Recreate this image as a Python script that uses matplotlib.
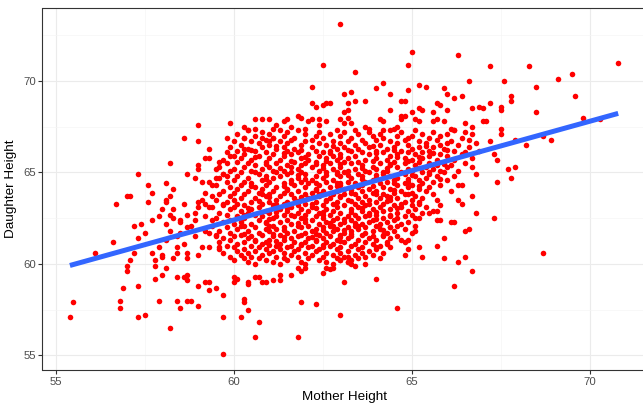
import numpy as np
import matplotlib.pyplot as plt
from matplotlib.ticker import MultipleLocator

# points away from the dense middle, read one by one: (mother, daughter) in inches
outer_pts = [
    (63.0, 73.1), (62.5, 70.9), (62.2, 69.7), (62.2, 68.8), (62.3, 68.6), (62.5, 68.7), (62.6, 68.8), (62.7, 68.8),
    (59.0, 67.6), (59.9, 67.7), (60.3, 67.5), (60.6, 67.9), (60.8, 67.9), (61.0, 67.9), (60.6, 67.4), (61.2, 67.6),
    (61.4, 67.8), (61.5, 67.9), (61.6, 67.5), (61.8, 68.1), (61.9, 68.0), (62.1, 67.8), (62.2, 67.9), (62.4, 67.9),
    (62.6, 67.8), (62.4, 67.6), (62.0, 67.4), (63.0, 67.9), (61.1, 67.4), (60.4, 67.3),
    (65.0, 71.6), (64.9, 70.9), (63.4, 70.5), (66.3, 71.4), (67.2, 70.8), (66.6, 70.0), (65.2, 69.8), (65.4, 69.7),
    (65.9, 69.6), (66.0, 69.3), (66.2, 69.1), (66.4, 69.2), (64.0, 69.6), (64.2, 69.9), (64.4, 69.3), (64.9, 69.5),
    (63.1, 69.3), (63.3, 69.4), (63.2, 68.8), (63.4, 68.9), (63.7, 68.9), (64.7, 68.9), (64.8, 68.9), (65.7, 68.8),
    (65.8, 68.7), (66.7, 68.5), (66.9, 68.6), (67.0, 68.5), (67.2, 68.8), (64.4, 68.4), (65.0, 68.3), (65.2, 68.5),
    (65.3, 68.4), (65.6, 68.3), (66.0, 68.4), (63.1, 68.3), (63.2, 68.4), (64.7, 68.1), (64.8, 68.1), (64.7, 67.9),
    (65.1, 67.9), (65.2, 67.8), (65.6, 67.8), (65.7, 67.9), (65.9, 67.8), (64.1, 67.9), (64.2, 67.8), (63.1, 67.7),
    (63.3, 67.7), (63.2, 68.0), (66.5, 67.7), (66.7, 67.5), (67.0, 67.8), (67.1, 67.8), (63.7, 67.5), (63.8, 67.4),
    (64.2, 67.3), (64.5, 67.4), (64.6, 67.5), (66.1, 67.4), (66.2, 67.3),
    (70.8, 71.0), (68.3, 70.8), (67.6, 70.0), (68.5, 69.7), (69.1, 70.1), (69.5, 70.4), (69.6, 69.2), (67.8, 69.2),
    (67.8, 68.9), (67.5, 68.6), (67.5, 68.4), (68.5, 68.3), (69.8, 68.0), (70.3, 67.9), (67.5, 67.4),
    (67.5, 67.1), (67.2, 66.7), (67.9, 66.8), (68.2, 66.5), (68.7, 67.0), (68.9, 66.8), (67.3, 66.0), (67.4, 65.7),
    (67.7, 65.2), (67.9, 65.3), (67.4, 64.5), (67.8, 64.7), (67.3, 62.5), (68.7, 60.6),
    (58.6, 66.9), (58.2, 65.5), (57.3, 64.9), (58.7, 64.9), (57.6, 64.3), (58.1, 64.4), (57.7, 63.9), (58.3, 64.1),
    (57.0, 63.7), (57.1, 63.7), (56.7, 63.3), (57.6, 63.4), (58.1, 63.5), (58.2, 63.7), (58.1, 63.4), (58.6, 63.3),
    (58.0, 63.0), (58.3, 63.0), (57.7, 62.4), (57.9, 62.6), (58.1, 62.2), (58.2, 62.7), (58.3, 62.5), (58.5, 62.4),
    (58.5, 62.3), (58.7, 62.7), (57.2, 62.1), (57.4, 62.2), (57.3, 61.4), (57.5, 61.7), (58.2, 61.8), (58.1, 61.3),
    (58.4, 61.5), (58.5, 61.7), (58.7, 62.0), (57.9, 60.9), (58.4, 60.9), (58.6, 61.1), (58.7, 60.6), (58.4, 60.6),
    (58.0, 60.5), (57.7, 60.6), (57.2, 60.6), (56.6, 61.2), (56.1, 60.6),
    (57.1, 60.2), (57.0, 59.9), (57.0, 59.6), (56.9, 58.7), (57.3, 58.8), (56.8, 58.0), (56.8, 57.6), (55.5, 57.9),
    (55.4, 57.1), (57.3, 57.1), (57.5, 57.2), (57.9, 58.0), (58.2, 56.5), (58.4, 58.0), (58.5, 57.6), (57.8, 60.2),
    (57.8, 59.9), (58.1, 59.8), (58.0, 60.4), (58.3, 60.3), (57.8, 59.2), (58.0, 59.4), (58.4, 59.3), (58.6, 59.3),
    (58.7, 59.4), (58.7, 59.1), (58.7, 58.0), (58.7, 60.3),
    (59.7, 55.1), (60.6, 56.0), (61.8, 56.0), (59.7, 57.1), (60.2, 57.1), (60.7, 56.8), (60.4, 57.5), (60.3, 58.1),
    (60.3, 57.9), (59.7, 58.3), (59.0, 57.7), (58.8, 58.0), (61.9, 57.9), (62.3, 57.8), (63.0, 57.2), (59.5, 58.7),
    (59.3, 58.6), (59.3, 59.0), (59.2, 59.0), (59.0, 58.8), (60.0, 59.0), (60.1, 59.2), (60.0, 59.3), (60.4, 59.0),
    (60.4, 58.9), (60.6, 59.3), (60.7, 59.3), (60.8, 59.0), (60.9, 59.0), (61.1, 59.1), (61.3, 59.1), (61.3, 59.4),
    (61.6, 59.4), (61.9, 59.6), (62.0, 59.8), (61.8, 59.8), (62.5, 59.5), (62.6, 59.8), (62.7, 59.7), (62.8, 59.8),
    (64.6, 57.6), (63.1, 59.0), (64.0, 59.2), (66.2, 58.8), (66.7, 59.6), (66.3, 60.1), (66.5, 60.4), (65.9, 60.3),
    (65.3, 60.4), (64.8, 60.5), (64.1, 60.3), (63.7, 60.0), (63.4, 59.9), (63.3, 60.0), (63.2, 60.1), (63.2, 60.4),
    (63.0, 60.2),
    (66.8, 62.8), (66.7, 63.7), (66.6, 61.9), (66.5, 61.8), (66.3, 63.5), (66.4, 63.3), (66.3, 64.3), (66.4, 64.3),
    (66.2, 62.3), (66.1, 62.3), (65.8, 62.4), (65.7, 62.4), (65.6, 62.9), (65.7, 62.9), (65.8, 63.2), (65.7, 61.0),
    (65.9, 61.4), (66.8, 64.9), (66.7, 65.3), (66.9, 66.2),
    (64.2, 61.5), (64.4, 62.0), (64.7, 61.3), (64.9, 61.3), (65.1, 61.8), (65.1, 62.5), (65.2, 63.4), (65.5, 62.8),
    (64.4, 62.6), (64.9, 60.8), (65.2, 60.9), (64.0, 60.9), (64.3, 61.1),
    (59.0, 66.7), (59.3, 66.3), (59.2, 65.8), (59.3, 65.8), (59.0, 65.4), (59.0, 65.2), (59.6, 65.6), (59.5, 65.2),
    (59.8, 66.9), (59.7, 64.9), (59.8, 64.8), (58.9, 64.7), (59.1, 64.5), (59.3, 64.5), (59.4, 64.3), (59.5, 64.7),
    (59.2, 63.9), (59.0, 63.4), (59.1, 63.5), (59.0, 63.1), (59.2, 63.3), (59.4, 63.7), (59.3, 63.1), (59.7, 63.3),
    (58.9, 62.8), (59.2, 62.6), (59.4, 62.4), (58.9, 62.4), (58.8, 62.1), (59.3, 61.7), (59.2, 61.8), (59.5, 61.5),
    (58.9, 61.5), (59.1, 60.9), (59.3, 60.9), (59.6, 60.9), (59.0, 60.5), (60.0, 65.9), (60.3, 66.9), (60.3, 66.3),
    (60.8, 66.9), (61.0, 66.7), (61.1, 66.9),
]

# dense middle of the cloud, one row per daughter height: (daughter, mothers)
core_rows = [
    (67.3, "60.4 61.3 61.8 62.9 63.4 64.4 65.1 66.2"),
    (67.2, "60.8 61.5 62.4 63.1 63.8 64.7 65.6 66.5"),
    (67.1, "60.1 61.0 62.0 62.7 63.5 64.1 65.3 66.0 66.7"),
    (67.0, "60.6 61.4 62.3 63.0 63.9 64.6 65.0 65.8"),
    (66.9, "60.3 61.1 61.7 62.5 63.3 64.2 64.9 65.5 66.4"),
    (66.8, "60.9 61.6 62.2 63.6 64.0 64.8 65.7 66.6"),
    (66.7, "60.0 60.5 61.3 62.0 62.8 63.2 64.4 65.2 66.1"),
    (66.6, "60.7 61.5 62.4 63.0 63.7 64.6 65.4 66.0 66.8"),
    (66.5, "60.2 61.0 61.9 62.6 63.4 64.1 64.9 65.8 66.3"),
    (66.4, "59.9 60.8 61.4 62.2 63.1 63.8 64.5 65.2 65.6 66.6"),
    (66.3, "60.4 61.2 61.7 62.9 63.5 64.3 65.0 65.9"),
    (66.2, "60.1 60.6 61.5 62.3 62.7 63.3 64.0 64.7 65.5 66.2"),
    (66.1, "59.8 60.9 61.8 62.5 63.6 64.2 64.9 65.3 66.5"),
    (66.0, "60.3 61.1 61.6 62.1 63.0 63.8 64.6 65.1 65.8 66.4"),
    (65.9, "59.9 60.7 61.4 62.4 62.8 63.4 64.4 65.5 66.0"),
    (65.8, "60.2 61.0 61.9 62.6 63.2 64.0 64.8 65.3 66.7"),
    (65.7, "59.7 60.5 61.3 62.1 62.9 63.7 64.3 65.0 65.7 66.2"),
    (65.6, "60.1 60.9 61.7 62.3 63.1 63.5 64.5 65.2 65.9"),
    (65.5, "59.8 60.4 61.2 62.0 62.7 63.3 64.1 64.8 65.5 66.5"),
    (65.4, "60.6 61.5 61.9 62.5 63.6 64.4 65.1 65.7 66.1"),
    (65.3, "59.6 60.3 61.0 61.6 62.2 63.0 63.9 64.6 65.4 66.0"),
    (65.2, "60.0 60.8 61.8 62.8 63.4 64.0 64.9 65.6"),
    (65.1, "59.9 60.5 61.1 61.4 62.4 63.2 63.7 64.3 65.0 65.8 66.3"),
    (65.0, "60.2 61.2 61.9 62.6 63.1 63.8 64.7 65.3 65.9"),
    (64.9, "59.7 60.7 61.5 62.0 62.9 63.5 64.2 64.8 65.5"),
    (64.8, "60.1 60.9 61.3 62.3 63.0 63.6 64.4 65.1 65.7 66.2"),
    (64.7, "59.6 60.4 61.1 61.8 62.5 63.3 64.0 64.6 65.4"),
    (64.6, "60.0 60.8 61.6 62.2 62.8 63.9 64.5 65.2 66.0"),
    (64.5, "59.8 60.3 61.0 61.9 62.6 63.2 63.7 64.3 64.9 65.6"),
    (64.4, "60.5 61.4 62.1 62.9 63.4 64.1 64.8 65.3"),
    (64.3, "59.5 60.2 60.9 61.7 62.4 63.0 63.6 64.6 65.0 65.8"),
    (64.2, "59.9 60.6 61.2 62.0 62.7 63.5 64.2 64.9 65.5"),
    (64.1, "60.1 60.8 61.5 62.3 63.1 63.8 64.4 65.2"),
    (64.0, "59.7 60.4 61.1 61.8 62.5 62.9 63.6 64.0 64.7 65.4 66.1"),
    (63.9, "60.0 60.7 61.4 62.2 63.3 63.9 64.5 65.0"),
    (63.8, "59.6 60.3 61.0 61.6 62.0 62.8 63.4 64.2 64.8 65.6"),
    (63.7, "59.9 60.9 61.3 62.4 63.0 63.7 64.3 65.1"),
    (63.6, "60.2 60.6 61.7 62.1 62.7 63.5 64.1 64.6 65.3"),
    (63.5, "59.5 60.0 61.2 61.9 62.6 63.2 63.8 64.4 65.0 65.7"),
    (63.4, "59.8 60.5 61.0 61.5 62.3 62.9 63.6 64.0 64.8"),
    (63.3, "60.1 60.8 61.4 62.0 62.8 63.4 64.2 65.2"),
    (63.2, "59.7 60.3 61.1 61.8 62.5 63.1 63.7 64.5 65.0"),
    (63.1, "59.4 60.0 60.7 61.6 62.2 62.9 63.5 64.1 64.7 65.4"),
    (63.0, "59.9 60.5 61.3 61.9 62.6 63.3 63.9 64.4 65.1"),
    (62.9, "60.2 60.9 61.5 62.1 62.8 63.6 64.2 64.9"),
    (62.8, "59.6 60.4 61.0 61.8 62.4 63.0 63.8 64.6 65.3"),
    (62.7, "59.8 60.6 61.4 62.0 62.7 63.4 64.0 64.4 65.0"),
    (62.6, "60.1 60.8 61.2 61.7 62.3 63.2 63.7 64.8"),
    (62.5, "59.5 60.3 61.1 61.9 62.5 62.9 63.5 64.2 64.6 65.2"),
    (62.4, "59.9 60.7 61.5 62.2 62.8 63.3 63.9 64.5"),
    (62.3, "59.7 60.2 60.9 61.3 62.0 62.6 63.1 63.8 64.3 64.9"),
    (62.2, "60.0 60.5 61.6 62.4 63.0 63.6 64.1 64.7"),
    (62.1, "59.4 60.3 61.0 61.8 62.1 62.7 63.4 64.0 64.6 65.1"),
    (62.0, "59.8 60.6 61.4 61.9 62.5 63.2 63.7 64.4"),
    (61.9, "60.1 60.9 61.2 62.3 62.9 63.5 64.1 64.8"),
    (61.8, "59.6 60.4 61.0 61.7 62.2 62.8 63.3 63.9 64.5"),
    (61.7, "59.9 60.7 61.5 62.0 62.6 63.1 63.7 64.3 65.0"),
    (61.6, "59.5 60.2 60.8 61.3 61.9 62.4 63.0 63.6 64.2"),
    (61.5, "60.0 60.5 61.1 61.8 62.7 63.3 63.9 64.6"),
    (61.4, "59.7 60.4 61.6 62.1 62.5 63.2 63.8 64.4"),
    (61.3, "59.9 60.6 61.0 61.4 62.3 62.9 63.5 64.0"),
    (61.2, "59.6 60.3 60.9 61.7 62.0 62.6 63.1 63.7 64.3 64.8"),
    (61.1, "60.1 60.8 61.3 61.9 62.8 63.4 63.9"),
    (61.0, "59.8 60.5 61.2 61.6 62.2 62.7 63.3 64.1"),
    (60.9, "60.0 60.7 61.5 62.1 62.5 63.0 63.6 64.4"),
    (60.8, "59.6 60.3 60.9 61.3 61.8 62.4 62.9 63.5 64.0"),
    (60.7, "60.1 60.6 61.1 61.7 62.3 63.2 63.8"),
    (60.6, "59.7 60.4 61.0 61.4 62.0 62.6 63.0 63.6 64.2"),
    (60.5, "60.2 60.8 61.6 62.2 62.8 63.4 63.9"),
    (60.4, "59.9 60.5 61.2 61.8 62.5 63.1 63.7"),
    (60.3, "60.3 60.7 61.4 62.1 62.9 63.5"),
    (60.2, "60.0 60.9 61.5 62.4 63.0 63.3"),
    (60.1, "60.4 61.1 61.9 62.6 63.2"),
    (60.0, "60.6 61.3 62.0 62.8"),
    # extra points where the middle of the cloud is nearly solid
    (66.45, "61.2 62.8 63.9 65.4"),
    (66.25, "60.5 61.9 63.2 64.5 66.0"),
    (66.05, "61.4 62.7 64.0 65.6"),
    (65.85, "60.6 62.0 63.0 64.6 65.2"),
    (65.65, "61.6 62.6 63.9 64.9"),
    (65.45, "60.9 62.3 63.0 64.4 65.9"),
    (65.25, "61.3 62.5 63.6 64.3 65.2"),
    (65.05, "60.6 61.6 62.9 64.2 65.5"),
    (64.85, "61.8 62.6 63.2 64.0 65.0"),
    (64.65, "60.9 62.0 63.6 64.9 65.8"),
    (64.45, "61.6 62.3 63.0 64.5"),
    (64.25, "60.5 61.4 62.9 63.9 65.2"),
    (64.05, "61.5 62.3 63.3 64.5"),
    (63.85, "60.8 62.4 63.1 64.0 64.9"),
    (63.65, "61.0 61.9 63.0 64.4"),
    (63.45, "60.7 61.8 62.6 63.3 64.3"),
    (63.25, "61.2 62.2 63.8 64.7"),
    (63.05, "60.4 61.5 62.3 63.6 64.6"),
    (62.85, "61.2 62.5 63.3 64.0"),
    (62.65, "60.3 61.6 62.5 63.8"),
    (62.45, "61.0 62.0 63.1 64.0"),
    (62.25, "60.9 61.8 62.7 63.4"),
    (62.05, "60.2 61.1 62.8 63.5"),
    (61.85, "61.4 62.5 63.1 64.2"),
    (61.65, "60.3 61.1 62.3 63.3"),
    (61.45, "61.4 62.2 63.0"),
    (61.25, "60.6 61.2 62.3 63.0"),
    (61.05, "61.0 61.9 62.5"),
]

# least squares line as drawn in the chart
fit_intercept = 30.0
fit_slope = 0.54

x_ticks = [55, 60, 65, 70]
y_ticks = [55, 60, 65, 70]

mother = [p[0] for p in outer_pts]
daughter = [p[1] for p in outer_pts]
for d, ms in core_rows:
    vals = [float(v) for v in ms.split()]
    mother += vals
    daughter += [d] * len(vals)
mother = np.array(mother)
daughter = np.array(daughter)

plt.rcParams["font.family"] = ["Liberation Sans", "DejaVu Sans"]

fig = plt.figure(figsize=(6.43, 4.04), dpi=100)
ax = fig.add_axes([42.5 / 643, 1 - 370 / 404, 603.1 / 643, 362.1 / 404])

ax.scatter(mother, daughter, s=16, color="#FF0000", linewidths=0, zorder=2)

line_x = np.array([mother.min(), mother.max()])
ax.plot(line_x, fit_intercept + fit_slope * line_x, color="#3366FF",
        linewidth=3.6, solid_capstyle="butt", zorder=3)

ax.margins(x=0.05, y=0.05)
ax.set_xticks(x_ticks)
ax.set_yticks(y_ticks)
ax.xaxis.set_minor_locator(MultipleLocator(2.5))
ax.yaxis.set_minor_locator(MultipleLocator(2.5))
ax.grid(which="major", color="#EBEBEB", linewidth=0.8, zorder=0)
ax.grid(which="minor", color="#F5F5F5", linewidth=0.5, zorder=0)
ax.set_axisbelow(True)
ax.tick_params(which="minor", length=0)
ax.tick_params(which="major", length=2.7, width=0.8, color="#333333",
               labelsize=8.2, labelcolor="#4D4D4D", pad=2.2)
for s in ax.spines.values():
    s.set_color("#333333")
    s.set_linewidth(0.8)

ax.set_xlabel("Mother Height", fontsize=9.7, labelpad=3)
ax.set_ylabel("Daughter Height", fontsize=9.7, labelpad=4)

fig.savefig("out.png", dpi=100)
